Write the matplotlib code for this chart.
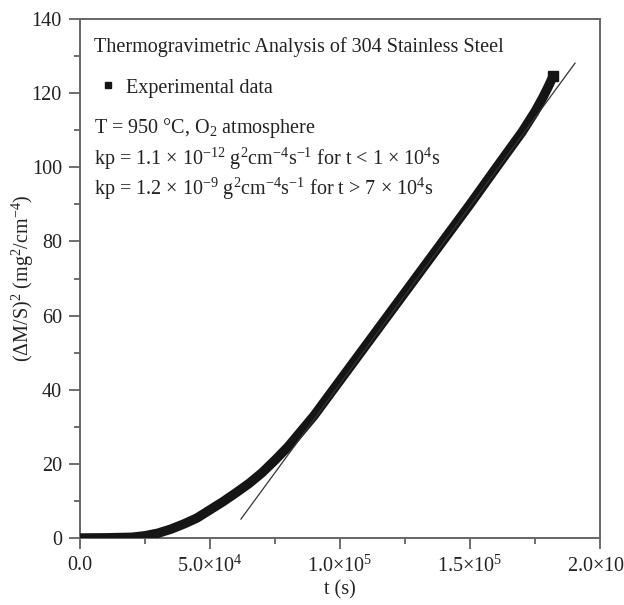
import matplotlib
matplotlib.use("Agg")
import matplotlib.pyplot as plt
from matplotlib.lines import Line2D
from matplotlib.ticker import MultipleLocator, FixedLocator

plt.rcParams['font.family'] = ['Liberation Serif', 'DejaVu Serif']
plt.rcParams['mathtext.fontset'] = 'custom'
plt.rcParams['mathtext.rm'] = 'Liberation Serif'
plt.rcParams['mathtext.it'] = 'Liberation Serif:italic'
plt.rcParams['mathtext.bf'] = 'Liberation Serif:bold'

t_data = [0, 1e4, 2e4, 2.5e4, 3e4, 3.5e4, 4e4, 4.5e4, 5e4, 5.5e4, 6e4, 6.5e4,
          7e4, 7.5e4, 8e4, 8.5e4, 9e4, 1e5, 1.1e5, 1.2e5, 1.3e5, 1.4e5, 1.5e5,
          1.6e5, 1.7e5, 1.75e5, 1.78e5, 1.80e5, 1.82e5]
y_data = [0, 0.05, 0.2, 0.6, 1.3, 2.4, 3.8, 5.4, 7.6, 9.8, 12.2, 14.7,
          17.6, 21.0, 24.6, 28.8, 33.0, 42.5, 52.0, 61.5, 71.0, 80.5, 90.0,
          99.8, 109.5, 115.0, 118.8, 121.6, 124.6]

# Linear fit line endpoints
fit_t = [6.19e4, 1.904e5]
fit_y = [5.1, 128.1]

x_ticks = [0, 5e4, 1e5, 1.5e5, 2e5]
x_ticklabels = ['0.0', r'5.0$\times$10$^{4}$', r'1.0$\times$10$^{5}$',
                r'1.5$\times$10$^{5}$', r'2.0$\times$10$^{5}$']
y_ticks = [0, 20, 40, 60, 80, 100, 120, 140]

FS = 14.5
fig = plt.figure(figsize=(6.24, 6.05), dpi=100)
ax = fig.add_axes([80/624, 1-538/605, 520/624, 519/605])

ax.plot(t_data, y_data, '-', color='#151515', lw=6.8, solid_capstyle='butt',
        solid_joinstyle='round', zorder=3)
ax.plot(t_data[-1:], y_data[-1:], 's', color='#151515', ms=7.5, zorder=3)
ax.plot(fit_t, fit_y, '-', color='#333333', lw=0.9, zorder=4)

ax.set_xlim(0, 2e5)
ax.set_ylim(0, 140)
ax.xaxis.set_major_locator(FixedLocator(x_ticks))
ax.set_xticklabels(x_ticklabels)
ax.xaxis.set_minor_locator(MultipleLocator(2.5e4))
ax.yaxis.set_major_locator(FixedLocator(y_ticks))
ax.yaxis.set_minor_locator(MultipleLocator(10))
ax.tick_params(which='both', direction='out', top=False, right=False,
               color='#555555', width=1.2, labelsize=FS, labelcolor='#222222')
ax.tick_params(which='major', length=8, pad=5)
ax.tick_params(which='minor', length=4)
for s in ax.spines.values():
    s.set_color('#666666')
    s.set_linewidth(1.4)

ax.set_xlabel('t (s)', fontsize=FS, color='#222222', labelpad=2)
ax.set_ylabel(r'($\Delta$M/S)$^2$ (mg$^2$/cm$^{-4}$)', fontsize=FS,
              color='#222222', labelpad=-3)

def yf(py):
    return (538 - py) / 519

x0 = (94 - 80) / 520
ax.text(x0, yf(47), 'Thermogravimetric Analysis of 304 Stainless Steel',
        transform=ax.transAxes, fontsize=FS, va='center', color='#222222')
ax.text(x0, yf(128), r'T = 950 °C, O$_2$ atmosphere',
        transform=ax.transAxes, fontsize=FS, va='center', color='#222222')
ax.text(x0, yf(159), r'kp = 1.1 $\times$ 10$^{-12}$ g$^2$cm$^{-4}$s$^{-1}$ for t < 1 $\times$ 10$^4$s',
        transform=ax.transAxes, fontsize=FS, va='center', color='#222222')
ax.text(x0, yf(189), r'kp = 1.2 $\times$ 10$^{-9}$ g$^2$cm$^{-4}$s$^{-1}$ for t > 7 $\times$ 10$^4$s',
        transform=ax.transAxes, fontsize=FS, va='center', color='#222222')

handle = Line2D([], [], marker='s', ls='none', color='#151515', ms=5)
leg = ax.legend(handles=[handle], labels=['Experimental data'],
                loc='center left', bbox_to_anchor=((102 - 80) / 520, yf(88)),
                frameon=False, fontsize=FS, borderpad=0, borderaxespad=0,
                handlelength=0.6, handletextpad=0.6)
for txt in leg.get_texts():
    txt.set_color('#222222')

fig.savefig('out.png', dpi=100)
